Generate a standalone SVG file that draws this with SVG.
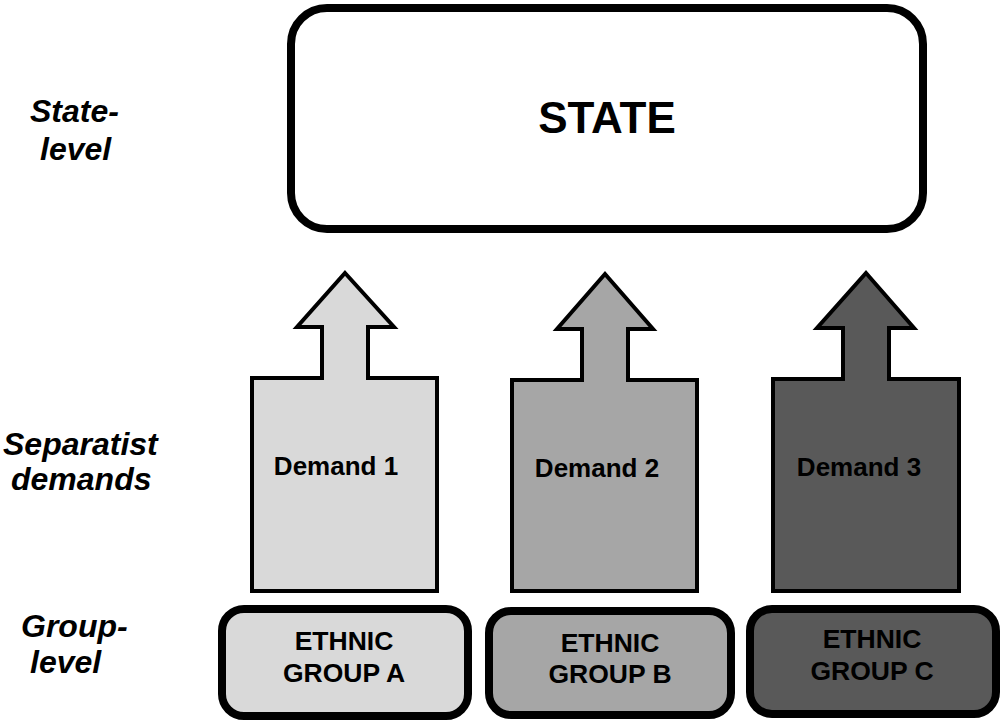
<svg xmlns="http://www.w3.org/2000/svg" width="1001" height="722" viewBox="0 0 1001 722">
<style>
.lbl{font-family:"Liberation Sans",Arial,sans-serif;font-weight:bold;font-style:italic;font-size:32px;fill:#000}
.t{font-family:"Liberation Sans",Arial,sans-serif;font-weight:bold;fill:#000;text-anchor:middle}
.arrow{stroke:#000;stroke-width:4;stroke-linejoin:miter}
.grp{stroke:#000;stroke-width:8}
</style>
<rect width="1001" height="722" fill="#fff"/>
<g id="labels">
<text class="lbl" x="30" y="122">State-</text>
<text class="lbl" x="40" y="160">level</text>
<text class="lbl" x="3" y="455">Separatist</text>
<text class="lbl" x="11" y="490">demands</text>
<text class="lbl" x="21" y="637">Group-</text>
<text class="lbl" x="30" y="673">level</text>
</g>
<g id="state">
<rect x="291" y="8" width="632" height="221" rx="36" ry="36" fill="#fff" stroke="#000" stroke-width="8"/>
<text class="t" x="607" y="133" font-size="44">STATE</text>
</g>
<g id="connectors">
<g id="demand1">
<polygon class="arrow" fill="#d9d9d9" points="345,273 394,327 368,327 368,378 437,378 437,591 252,591 252,378 322,378 322,327 297,327"/>
<text class="t" x="336" y="475" font-size="26">Demand 1</text>
</g>
<g id="demand2">
<polygon class="arrow" fill="#a6a6a6" points="605,274 653,329 628,329 628,380 697,380 697,591 512,591 512,380 582,380 582,329 557,329"/>
<text class="t" x="597" y="477" font-size="26">Demand 2</text>
</g>
<g id="demand3">
<polygon class="arrow" fill="#595959" points="866,273 914,328 889,328 889,379 959,379 959,591 773,591 773,379 843,379 843,328 817,328"/>
<text class="t" x="859" y="476" font-size="26">Demand 3</text>
</g>
</g>
<g id="groupA">
<rect class="grp" x="222" y="609" width="246" height="107" rx="22" ry="22" fill="#d9d9d9"/>
<text class="t" x="344" y="650" font-size="26.5">ETHNIC</text>
<text class="t" x="344" y="682" font-size="26.5">GROUP A</text>
</g>
<g id="groupB">
<rect class="grp" x="489" y="611" width="242" height="104" rx="22" ry="22" fill="#a6a6a6"/>
<text class="t" x="610" y="652" font-size="26.5">ETHNIC</text>
<text class="t" x="610" y="683" font-size="26.5">GROUP B</text>
</g>
<g id="groupC">
<rect class="grp" x="750" y="609" width="246" height="105" rx="22" ry="22" fill="#595959"/>
<text class="t" x="872" y="648" font-size="26.5">ETHNIC</text>
<text class="t" x="872" y="680" font-size="26.5">GROUP C</text>
</g>
</svg>
